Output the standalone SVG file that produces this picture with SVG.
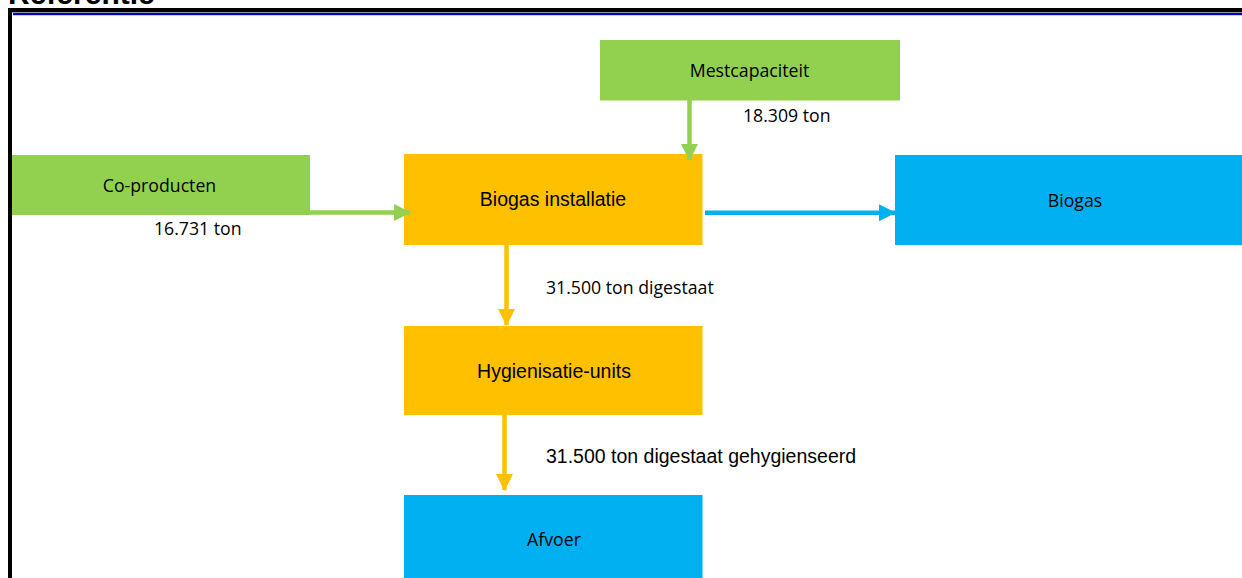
<svg xmlns="http://www.w3.org/2000/svg" width="1242" height="578" viewBox="0 0 1242 578">
<style>
.green{fill:#92D050}
.orange{fill:#FFC000}
.blue{fill:#00B0F0}
.cal{font-family:"Open Sans","Noto Sans",sans-serif;font-size:17.7px;fill:#000}
.ar{font-family:"Liberation Sans",Arial,sans-serif;font-size:19.5px;fill:#000}
.ln{fill:none;stroke-width:4.5}
</style>
<defs>
<marker id="hg" markerUnits="userSpaceOnUse" markerWidth="17" markerHeight="17" refX="16" refY="8.5" orient="auto"><path d="M0,0 L17,8.5 L0,17 z" fill="#92D050"/></marker>
<marker id="ho" markerUnits="userSpaceOnUse" markerWidth="17" markerHeight="17" refX="16" refY="8.5" orient="auto"><path d="M0,0 L17,8.5 L0,17 z" fill="#FFC000"/></marker>
<marker id="hb" markerUnits="userSpaceOnUse" markerWidth="17" markerHeight="17" refX="16" refY="8.5" orient="auto"><path d="M0,0 L17,8.5 L0,17 z" fill="#00B0F0"/></marker>
</defs>
<rect width="1242" height="578" fill="#fff"/>
<text x="8" y="4" font-family="Liberation Sans,Arial,sans-serif" font-weight="bold" font-size="30" fill="#000">Referentie</text>
<g id="frame">
<rect x="10" y="10" width="1260" height="600" fill="none" stroke="#000" stroke-width="4"/>
<rect x="12" y="12" width="1230" height="1" fill="#999"/>
<rect x="13" y="13" width="1229" height="2.2" fill="#0000C8"/>
</g>
<g id="mestcapaciteit"><rect class="green" x="600" y="40" width="300" height="60.5"/><text class="cal" x="749.5" y="77" text-anchor="middle">Mestcapaciteit</text></g>
<g id="co-producten"><rect class="green" x="12" y="155" width="298" height="60"/><text class="cal" x="159.5" y="192" text-anchor="middle">Co-producten</text></g>
<g id="biogas-installatie"><rect class="orange" x="404" y="154" width="298.5" height="91"/><text class="ar" x="553" y="206" text-anchor="middle">Biogas installatie</text></g>
<g id="biogas"><rect class="blue" x="895" y="155" width="347" height="90"/><text class="cal" x="1075" y="207" text-anchor="middle">Biogas</text></g>
<g id="hygienisatie"><rect class="orange" x="404" y="326" width="298.5" height="89"/><text class="ar" x="554" y="378" text-anchor="middle">Hygienisatie-units</text></g>
<g id="afvoer"><rect class="blue" x="404" y="495" width="298.5" height="83"/><text class="cal" x="554" y="546" text-anchor="middle">Afvoer</text></g>
<g id="connectors">
<path class="ln" stroke="#92D050" d="M310,212.5 L410,212.5" marker-end="url(#hg)"/>
<path class="ln" stroke="#92D050" d="M689.5,100 L689.5,160" marker-end="url(#hg)"/>
<path class="ln" stroke="#00B0F0" d="M705,212.7 L895,212.7" marker-end="url(#hb)"/>
<path class="ln" stroke="#FFC000" d="M506.5,245 L506.5,325" marker-end="url(#ho)"/>
<path class="ln" stroke="#FFC000" d="M504.5,415 L504.5,490" marker-end="url(#ho)"/>
<text class="cal" x="743" y="122">18.309 ton</text>
<text class="cal" x="154" y="235">16.731 ton</text>
<text class="cal" x="546" y="294">31.500 ton digestaat</text>
<text class="ar" x="546" y="463">31.500 ton digestaat gehygienseerd</text>
</g>
</svg>
